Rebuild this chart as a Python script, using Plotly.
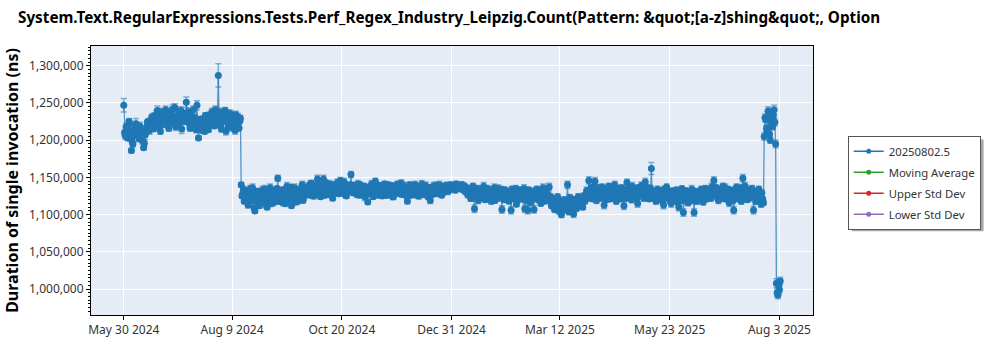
import pandas as pd
import plotly.graph_objects as go

# Two benchmark runs per day (00:00 and 12:00), starting on this date
first_run = "2024-05-30"

# Mean duration of the 00:00 run, in thousands of ns
run_a_k = [
    1247, 1206, 1212, 1220, 1204, 1186, 1195, 1215, 1222, 1208,
    1202, 1213, 1200, 1190, 1207, 1218, 1225, 1214, 1228, 1221,
    1232, 1226, 1240, 1219, 1212, 1228, 1233, 1222, 1237, 1229,
    1225, 1234, 1242, 1226, 1218, 1231, 1238, 1227, 1215, 1233,
    1236, 1251, 1229, 1222, 1235, 1224, 1219, 1226, 1247, 1203,
    1222, 1215, 1227, 1212, 1219, 1228, 1233, 1224, 1238, 1230,
    1241, 1228, 1287, 1232, 1215, 1238, 1226, 1212, 1232, 1224,
    1235, 1217, 1228, 1213, 1226, 1231, 1225, 1140, 1128, 1118,
    1132, 1122, 1115, 1135, 1126, 1119, 1105, 1121, 1130, 1112,
    1127, 1133, 1118, 1125, 1110, 1129, 1136, 1120, 1116, 1131,
    1124, 1149, 1127, 1119, 1133, 1122, 1115, 1138, 1128, 1121,
    1112, 1130, 1136, 1124, 1118, 1132, 1127, 1140, 1123, 1129,
    1131, 1138, 1126, 1142, 1135, 1129, 1137, 1148, 1133, 1124,
    1139, 1148, 1130, 1136, 1127, 1141, 1134, 1122, 1138, 1132,
    1143, 1128, 1146, 1135, 1130, 1139, 1125, 1137, 1133, 1154,
    1136, 1131, 1138, 1127, 1134, 1140, 1129, 1135, 1124, 1133,
    1117, 1137, 1130, 1139, 1128, 1145, 1134, 1126, 1138, 1132,
    1129, 1141, 1133, 1127, 1136, 1131, 1139, 1125, 1134, 1130,
    1137, 1128, 1142, 1133, 1127, 1135, 1118, 1131, 1138, 1129,
    1134, 1140, 1126, 1133, 1137, 1130, 1135, 1128, 1139, 1132,
    1127, 1119, 1134, 1138, 1131, 1136, 1129, 1140, 1133, 1137,
    1130, 1135, 1139, 1132, 1136, 1134, 1138, 1136, 1141, 1137,
    1139, 1135, 1140, 1134, 1131, 1136, 1127, 1133, 1122, 1138,
    1108, 1129, 1135, 1124, 1131, 1127, 1138, 1120, 1132, 1126,
    1133, 1118, 1129, 1136, 1123, 1130, 1125, 1134, 1107, 1128,
    1133, 1122, 1130, 1125, 1106, 1131, 1124, 1135, 1119, 1128,
    1133, 1121, 1129, 1108, 1126, 1106, 1132, 1123, 1130, 1107,
    1127, 1134, 1120, 1129, 1125, 1136, 1118, 1127, 1122, 1137,
    1124, 1117, 1110, 1121, 1113, 1106, 1118, 1100, 1112, 1120,
    1108, 1140, 1104, 1122, 1111, 1101, 1115, 1109, 1124, 1113,
    1119, 1110, 1122, 1126, 1131, 1146, 1122, 1133, 1127, 1145,
    1119, 1130, 1136, 1124, 1129, 1113, 1134, 1127, 1138, 1121,
    1132, 1126, 1140, 1118, 1131, 1135, 1123, 1129, 1112, 1133,
    1143, 1127, 1131, 1120, 1136, 1125, 1130, 1115, 1134, 1128,
    1137, 1122, 1144, 1129, 1124, 1132, 1162, 1131, 1125, 1118,
    1134, 1127, 1121, 1130, 1113, 1128, 1137, 1122, 1126, 1115,
    1132, 1124, 1119, 1129, 1110, 1127, 1135, 1103, 1123, 1130,
    1116, 1126, 1121, 1132, 1103, 1125, 1118, 1129, 1122, 1134,
    1117, 1127, 1131, 1124, 1130, 1122, 1135, 1146, 1127, 1133,
    1119, 1131, 1125, 1138, 1121, 1129, 1134, 1116, 1128, 1132,
    1106, 1126, 1137, 1123, 1130, 1118, 1149, 1127, 1133, 1120,
    1129, 1124, 1135, 1106, 1127, 1131, 1119, 1125, 1114, 1121,
    1205, 1228, 1212, 1237, 1200, 1222, 1233, 1224, 1008, 992,
    999,
]

# Mean duration of the 12:00 run, in thousands of ns
run_b_k = [
    1210, 1218, 1203, 1225, 1212, 1198, 1206, 1220, 1211, 1216,
    1219, 1205, 1209, 1196, 1212, 1224, 1213, 1220, 1231, 1215,
    1224, 1235, 1218, 1229, 1238, 1221, 1226, 1241, 1230, 1216,
    1236, 1223, 1230, 1244, 1229, 1220, 1226, 1240, 1232, 1225,
    1229, 1234, 1238, 1216, 1227, 1241, 1230, 1214, 1222, 1218,
    1228, 1213, 1220, 1233, 1225, 1214, 1221, 1236, 1227, 1219,
    1232, 1239, 1224, 1220, 1234, 1227, 1240, 1225, 1218, 1236,
    1223, 1230, 1219, 1234, 1220, 1216, 1229, 1125, 1134, 1121,
    1127, 1113, 1130, 1120, 1136, 1109, 1124, 1131, 1117, 1126,
    1119, 1128, 1134, 1113, 1126, 1121, 1115, 1132, 1127, 1122,
    1135, 1118, 1130, 1124, 1116, 1129, 1134, 1120, 1125, 1137,
    1126, 1121, 1117, 1133, 1128, 1123, 1135, 1119, 1131, 1136,
    1128, 1134, 1141, 1130, 1125, 1139, 1132, 1127, 1140, 1136,
    1131, 1126, 1143, 1129, 1138, 1133, 1127, 1140, 1130, 1137,
    1135, 1141, 1129, 1133, 1144, 1126, 1136, 1131, 1140, 1132,
    1129, 1139, 1133, 1141, 1126, 1135, 1131, 1138, 1130, 1127,
    1134, 1129, 1141, 1124, 1136, 1131, 1127, 1139, 1133, 1125,
    1138, 1131, 1126, 1140, 1129, 1135, 1124, 1137, 1132, 1141,
    1130, 1136, 1127, 1139, 1134, 1125, 1132, 1140, 1126, 1135,
    1128, 1133, 1138, 1125, 1131, 1141, 1127, 1136, 1130, 1124,
    1136, 1130, 1127, 1133, 1139, 1128, 1135, 1131, 1126, 1138,
    1134, 1139, 1131, 1137, 1140, 1135, 1138, 1133, 1136, 1139,
    1136, 1140, 1133, 1138, 1134, 1127, 1131, 1122, 1135, 1128,
    1131, 1124, 1119, 1133, 1126, 1132, 1122, 1129, 1135, 1121,
    1127, 1132, 1124, 1119, 1130, 1135, 1122, 1128, 1133, 1120,
    1126, 1131, 1118, 1129, 1134, 1121, 1127, 1114, 1132, 1125,
    1122, 1130, 1135, 1119, 1128, 1133, 1116, 1127, 1121, 1131,
    1133, 1122, 1128, 1115, 1130, 1124, 1131, 1120, 1126, 1118,
    1112, 1121, 1107, 1116, 1124, 1110, 1103, 1115, 1119, 1106,
    1117, 1111, 1123, 1105, 1114, 1120, 1108, 1118, 1112, 1121,
    1113, 1125, 1118, 1132, 1125, 1130, 1136, 1121, 1138, 1128,
    1133, 1125, 1122, 1137, 1131, 1126, 1120, 1135, 1129, 1132,
    1124, 1137, 1130, 1127, 1134, 1121, 1136, 1131, 1126, 1122,
    1129, 1135, 1124, 1138, 1128, 1132, 1122, 1136, 1126, 1139,
    1131, 1127, 1133, 1136, 1121, 1135, 1128, 1122, 1130, 1126,
    1120, 1132, 1127, 1117, 1134, 1123, 1129, 1131, 1118, 1127,
    1125, 1130, 1133, 1116, 1126, 1121, 1128, 1119, 1132, 1124,
    1129, 1118, 1134, 1125, 1120, 1131, 1127, 1122, 1133, 1126,
    1128, 1135, 1121, 1132, 1125, 1137, 1128, 1131, 1136, 1122,
    1134, 1126, 1130, 1122, 1136, 1125, 1120, 1133, 1127, 1119,
    1130, 1135, 1121, 1131, 1127, 1136, 1124, 1138, 1126, 1132,
    1122, 1133, 1127, 1131, 1118, 1125, 1134, 1121, 1129, 1116,
    1230, 1216, 1239, 1208, 1226, 1218, 1241, 1195, 995, 1004,
    1011,
]

# Standard deviation of the 00:00 run, in thousands of ns
std_a_k = [
    9, 5, 6, 7, 5, 3, 4, 6, 7, 5,
    4, 6, 5, 3, 6, 5, 4, 6, 5, 4,
    5, 4, 6, 5, 4, 5, 6, 4, 5, 4,
    4, 5, 6, 4, 5, 4, 5, 4, 6, 5,
    4, 7, 4, 5, 4, 6, 5, 4, 6, 3,
    5, 4, 5, 4, 5, 4, 5, 4, 5, 4,
    5, 4, 15.5, 5, 4, 5, 4, 5, 4, 5,
    4, 5, 4, 5, 4, 5, 8, 3, 4, 3,
    4, 3, 5, 4, 3, 4, 3, 4, 5, 3,
    4, 5, 3, 4, 3, 4, 5, 3, 4, 5,
    4, 4, 3, 5, 4, 3, 4, 5, 3, 4,
    3, 4, 5, 3, 4, 4, 3, 5, 4, 3,
    4, 5, 3, 4, 4, 3, 5, 5, 4, 3,
    4, 5, 3, 4, 3, 5, 4, 3, 4, 4,
    5, 3, 4, 4, 3, 5, 3, 4, 4, 4,
    4, 3, 5, 4, 3, 4, 4, 3, 5, 4,
    3, 4, 4, 5, 3, 4, 4, 3, 4, 5,
    3, 4, 4, 3, 5, 4, 3, 4, 4, 3,
    4, 3, 5, 4, 3, 4, 3, 4, 5, 3,
    4, 5, 3, 4, 4, 3, 4, 3, 5, 4,
    3, 4, 4, 5, 3, 4, 3, 5, 4, 4,
    3, 4, 5, 3, 4, 3, 4, 3, 4, 3,
    3, 4, 3, 3, 4, 3, 4, 3, 4, 4,
    5, 3, 4, 4, 3, 4, 5, 3, 4, 3,
    4, 4, 3, 5, 4, 3, 4, 4, 5, 3,
    4, 3, 4, 3, 5, 4, 3, 4, 4, 3,
    4, 4, 3, 5, 3, 5, 4, 3, 4, 5,
    3, 4, 4, 3, 4, 5, 3, 4, 3, 5,
    4, 3, 4, 4, 3, 5, 4, 4, 3, 4,
    4, 5, 4, 3, 4, 5, 3, 4, 4, 3,
    4, 3, 4, 3, 4, 5, 3, 4, 3, 5,
    4, 3, 4, 4, 3, 5, 4, 3, 4, 3,
    4, 3, 5, 4, 3, 4, 4, 3, 5, 4,
    5, 3, 4, 4, 3, 4, 3, 5, 4, 3,
    4, 4, 5, 3, 4, 3, 8, 4, 3, 4,
    4, 3, 4, 3, 5, 4, 4, 3, 4, 5,
    3, 4, 4, 3, 5, 4, 3, 5, 3, 4,
    4, 3, 4, 4, 5, 3, 4, 3, 4, 4,
    4, 3, 4, 4, 3, 4, 3, 5, 4, 3,
    4, 3, 4, 4, 3, 4, 4, 5, 3, 4,
    5, 4, 4, 3, 4, 4, 5, 3, 4, 3,
    4, 3, 4, 5, 3, 4, 4, 3, 4, 3,
    5, 4, 5, 6, 4, 5, 4, 5, 6, 5,
    5,
]

# Standard deviation of the 12:00 run, in thousands of ns
std_b_k = [
    4, 5, 3, 4, 5, 4, 3, 5, 4, 4,
    5, 3, 4, 4, 5, 3, 4, 5, 4, 3,
    4, 5, 4, 3, 5, 4, 4, 5, 3, 4,
    5, 4, 3, 5, 4, 4, 3, 5, 4, 4,
    3, 4, 5, 4, 3, 5, 4, 4, 3, 4,
    4, 3, 5, 4, 4, 3, 4, 5, 4, 3,
    5, 4, 4, 3, 5, 4, 4, 3, 4, 5,
    4, 4, 3, 5, 4, 3, 4, 3, 4, 4,
    3, 4, 4, 3, 5, 4, 3, 4, 4, 3,
    4, 3, 5, 4, 3, 4, 4, 3, 5, 4,
    3, 4, 4, 3, 4, 5, 3, 4, 4, 3,
    4, 3, 4, 5, 3, 4, 4, 3, 4, 4,
    3, 4, 5, 3, 4, 4, 3, 4, 5, 3,
    4, 4, 3, 5, 4, 3, 4, 4, 3, 5,
    4, 3, 4, 4, 5, 3, 4, 3, 4, 4,
    3, 4, 4, 5, 3, 4, 3, 4, 4, 3,
    4, 4, 5, 3, 4, 3, 4, 4, 5, 3,
    4, 3, 4, 4, 3, 5, 4, 3, 4, 4,
    3, 4, 3, 5, 4, 3, 4, 4, 3, 4,
    4, 3, 4, 4, 3, 5, 4, 3, 4, 3,
    4, 4, 3, 4, 5, 3, 4, 4, 3, 4,
    4, 3, 4, 3, 4, 4, 3, 4, 3, 4,
    3, 4, 3, 4, 3, 4, 3, 4, 4, 3,
    4, 3, 4, 5, 3, 4, 3, 4, 4, 3,
    3, 4, 4, 3, 4, 5, 3, 4, 4, 3,
    4, 4, 3, 4, 4, 3, 4, 3, 5, 4,
    3, 4, 5, 3, 4, 4, 3, 4, 3, 4,
    4, 3, 4, 3, 5, 4, 4, 3, 4, 3,
    3, 4, 4, 3, 4, 4, 3, 4, 4, 3,
    4, 3, 4, 4, 3, 4, 3, 4, 3, 4,
    3, 4, 3, 5, 4, 3, 4, 3, 5, 4,
    4, 3, 4, 4, 3, 4, 3, 5, 4, 3,
    3, 5, 4, 3, 4, 3, 4, 4, 3, 4,
    4, 3, 4, 5, 3, 4, 3, 4, 3, 5,
    4, 3, 4, 4, 3, 4, 4, 3, 4, 3,
    3, 4, 4, 3, 4, 3, 4, 4, 3, 4,
    4, 3, 4, 3, 4, 4, 3, 4, 4, 3,
    4, 3, 5, 4, 3, 4, 4, 3, 4, 3,
    3, 4, 3, 4, 4, 5, 3, 4, 4, 3,
    4, 3, 4, 3, 5, 4, 3, 4, 3, 4,
    4, 4, 3, 4, 3, 4, 4, 5, 3, 4,
    3, 4, 4, 3, 4, 3, 4, 3, 4, 3,
    5, 4, 6, 4, 5, 4, 6, 5, 5, 4,
    5,
]

x_tick_dates = ["2024-05-30", "2024-08-09", "2024-10-20", "2024-12-31",
                "2025-03-12", "2025-05-23", "2025-08-03"]
x_tick_labels = ["May 30 2024", "Aug 9 2024", "Oct 20 2024", "Dec 31 2024",
                 "Mar 12 2025", "May 23 2025", "Aug 3 2025"]

series_names = ["20250802.5", "Moving Average", "Upper Std Dev", "Lower Std Dev"]
series_colors = ["#1f77b4", "#2ca02c", "#d62728", "#9467bd"]

title_text = ("System.Text.RegularExpressions.Tests.Perf_Regex_Industry_Leipzig.Count"
              "(Pattern: &amp;quot;[a-z]shing&amp;quot;, Option")

# Interleave the two daily runs into one chronological series
days_a = pd.date_range(first_run, periods=len(run_a_k), freq="D")
days_b = days_a + pd.Timedelta(hours=12)
runs = pd.DataFrame({
    "date": list(days_a) + list(days_b),
    "duration_ns": [v * 1000 for v in run_a_k] + [v * 1000 for v in run_b_k],
    "stddev_ns": [s * 1000 for s in std_a_k] + [s * 1000 for s in std_b_k],
}).sort_values("date")

FONT = "Noto Sans"

fig = go.Figure()
fig.add_trace(go.Scatter(
    x=runs["date"], y=runs["duration_ns"], mode="lines+markers",
    name=series_names[0], showlegend=False,
    line=dict(color="rgba(31,119,180,0.75)", width=1.3),
    marker=dict(color=series_colors[0], size=7),
    error_y=dict(type="data", array=runs["stddev_ns"], visible=True,
                 color="rgba(31,119,180,0.55)", thickness=1.5, width=3),
))
# Legend entries (the statistic series carry no points in this view)
for name, color in zip(series_names, series_colors):
    fig.add_trace(go.Scatter(
        x=[None], y=[None], mode="lines+markers", name=name, legendgroup=name,
        line=dict(color=color, width=1.5), marker=dict(color=color, size=5),
    ))

# Plot-area box in pixels, used to place the legend and its drop shadow
PL, PR, PT, PB = 85, 813, 46, 319
def px_x(p):
    return (p - PL) / (PR - PL)
def px_y(p):
    return (PB - p) / (PB - PT)

fig.add_shape(type="rect", xref="paper", yref="paper",
              x0=px_x(852), x1=px_x(985), y0=px_y(234), y1=px_y(141),
              fillcolor="#a8a8a8", line=dict(width=0), layer="above")

fig.update_layout(
    width=1000, height=350,
    margin=dict(l=PL, r=1000 - PR, t=PT, b=350 - PB),
    paper_bgcolor="white", plot_bgcolor="#E5ECF6",
    font=dict(family=FONT, size=12, color="#333333"),
    title=dict(text="<b>" + title_text + "</b>", x=0.018, xanchor="left",
               y=1 - 18 / 350, yanchor="middle",
               font=dict(family=FONT, size=15.25, color="black")),
    legend=dict(x=px_x(848), y=px_y(137), xanchor="left", yanchor="top",
                bgcolor="white", bordercolor="#555555", borderwidth=1,
                font=dict(family=FONT, size=11.3, color="#333333"),
                tracegroupgap=2),
    showlegend=True,
)

fig.update_xaxes(
    range=["2024-05-08 12:00", "2025-08-25"],
    tickmode="array", tickvals=x_tick_dates, ticktext=x_tick_labels,
    showline=True, linecolor="black", linewidth=1, mirror=True,
    ticks="outside", ticklen=4, tickcolor="black",
    showgrid=True, gridcolor="white", gridwidth=1, zeroline=False,
    tickfont=dict(family=FONT, size=12, color="#333333"),
)
fig.update_yaxes(
    range=[965200, 1326500],
    tickmode="linear", tick0=1000000, dtick=50000, tickformat=",",
    showline=True, linecolor="black", linewidth=1, mirror=True,
    ticks="outside", ticklen=4, tickcolor="black",
    minor=dict(tickmode="linear", tick0=1000000, dtick=5000, ticks="outside",
               ticklen=2, tickcolor="black", showgrid=False),
    showgrid=True, gridcolor="white", gridwidth=1, zeroline=False,
    tickfont=dict(family=FONT, size=12, color="#333333"),
    title=dict(text="<b>Duration of single invocation (ns)</b>", standoff=6,
               font=dict(family=FONT, size=16, color="black")),
)

fig.write_html("out.html")
